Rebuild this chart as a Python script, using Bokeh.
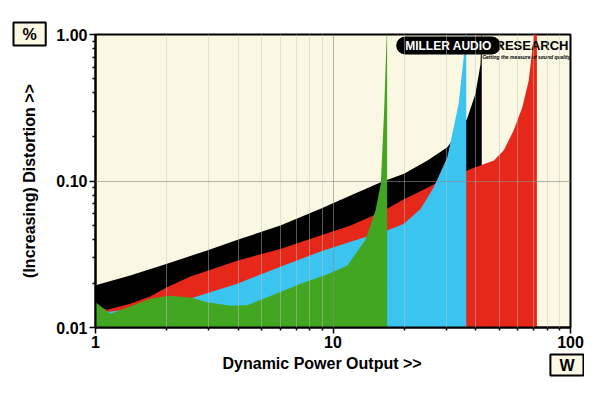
import math
from bokeh.plotting import figure
from bokeh.models import Label, Title, FixedTicker, Range1d
from bokeh.embed import file_html
from bokeh.resources import INLINE

# ---- data ----
x_tick_values = [1, 10, 100]
x_tick_labels = ["1", "10", "100"]
y_tick_values = [0.01, 0.1, 1.0]
y_tick_labels = ["0.01", "0.10", "1.00"]

black_w = [1, 1.4, 2.0, 2.95, 4.08, 6.0, 8.86, 11.85, 15.9, 19.9, 25.0, 30.3, 36.7, 39.8, 41.8, 42.3]
black_d = [0.0194, 0.0226, 0.0272, 0.0336, 0.0403, 0.0497, 0.0646, 0.0796, 0.098, 0.112, 0.138, 0.17, 0.266, 0.394, 0.63, 1.2]

red_w = [1, 1.12, 1.4, 1.7, 2.0, 2.51, 3.95, 6.0, 8.86, 11.85, 15.9, 19.9, 25.0, 30.3, 36.7, 39.8, 47.6, 52.4, 57.6, 62.7, 66.7, 70.0, 72.2]
red_d = [0.0138, 0.0132, 0.0145, 0.0163, 0.0188, 0.0223, 0.0286, 0.0344, 0.0425, 0.0497, 0.0612, 0.075, 0.09, 0.106, 0.118, 0.124, 0.138, 0.162, 0.221, 0.319, 0.486, 0.96, 1.2]

blue_w = [1, 1.5, 2.0, 2.51, 3.95, 6.0, 8.86, 11.85, 15.9, 16.9, 19.9, 23.4, 26.6, 30.3, 33.8, 35.5, 36.4]
blue_d = [0.0125, 0.0135, 0.0148, 0.0158, 0.0199, 0.026, 0.033, 0.0385, 0.0447, 0.046, 0.051, 0.0646, 0.091, 0.145, 0.336, 0.70, 1.2]

green_w = [1, 1.157, 1.4, 1.7, 2.03, 2.51, 2.95, 3.7, 4.35, 5.29, 7.06, 8.03, 9.44, 11.5, 13.7, 15.1, 15.9, 16.4, 16.9]
green_d = [0.0149, 0.0124, 0.0139, 0.0157, 0.0165, 0.016, 0.0149, 0.0141, 0.0142, 0.0161, 0.0194, 0.021, 0.023, 0.0265, 0.0397, 0.063, 0.096, 0.29, 1.2]

series = [
    (black_w, black_d, "#000000"),
    (red_w, red_d, "#e5281a"),
    (blue_w, blue_d, "#3bc4ef"),
    (green_w, green_d, "#43a620"),
]

FONT = "Liberation Sans"

x_minor = [m * 10 ** k for k in range(0, 2) for m in range(2, 10)]
y_minor = [m * 10.0 ** k for k in range(-2, 0) for m in range(2, 10)]

p = figure(width=584, height=377, x_axis_type="log", y_axis_type="log",
           x_range=Range1d(1, 100), y_range=Range1d(0.01, 1.0),
           output_backend="svg", toolbar_location=None,
           min_border_left=95, min_border_right=14, min_border_top=34, min_border_bottom=50)

p.background_fill_color = "#faf7e2"
p.border_fill_color = "white"
p.outline_line_color = "black"
p.outline_line_width = 2

for w, d, fc in series:
    p.varea(x=w, y1=0.001, y2=d, fill_color=fc, fill_alpha=1.0)

# axes
xt = FixedTicker(ticks=x_tick_values, minor_ticks=x_minor)
yt = FixedTicker(ticks=y_tick_values, minor_ticks=y_minor)
p.xaxis.ticker = xt
p.yaxis.ticker = yt
p.xaxis.major_label_overrides = dict(zip(x_tick_values, x_tick_labels))
p.yaxis.major_label_overrides = dict(zip(y_tick_values, y_tick_labels))
for ax in (p.xaxis, p.yaxis):
    ax.axis_line_width = 2
    ax.axis_line_color = "black"
    ax.major_tick_in = 0
    ax.minor_tick_in = 0
    ax.major_tick_out = 6
    ax.minor_tick_out = 3
    ax.major_tick_line_width = 1.5
    ax.minor_tick_line_width = 1.5
    ax.major_label_text_font = FONT
    ax.major_label_text_font_size = "16px"
    ax.major_label_text_font_style = "bold"
    ax.major_label_text_color = "black"
    ax.major_label_standoff = 2
    ax.axis_label_text_font = FONT
    ax.axis_label_text_font_size = "16px"
    ax.axis_label_text_font_style = "bold"
    ax.axis_label_text_color = "black"

p.yaxis.axis_label = "(Increasing) Distortion >>"
p.yaxis.axis_label_standoff = 15

# grids drawn over the areas, semi-transparent
p.xgrid.ticker = xt
p.ygrid.ticker = yt
p.xgrid.level = "overlay"
p.ygrid.level = "overlay"
p.xgrid.grid_line_color = "#8a8a8a"
p.xgrid.grid_line_alpha = 0.6
p.xgrid.minor_grid_line_color = "#c4c4c4"
p.xgrid.minor_grid_line_alpha = 0.45
p.ygrid.grid_line_color = "#8a8a8a"
p.ygrid.grid_line_alpha = 0.6
p.ygrid.minor_grid_line_color = None

def title(text, side, **kw):
    base = dict(text=text, text_font=FONT, text_font_size="16px",
                text_font_style="bold", text_color="black")
    base.update(kw)
    p.add_layout(Title(**base), side)

# x title and unit boxes (side-panel titles, so they are not clipped to the frame)
title("Dynamic Power Output >>", "below", align="left", vertical_align="top",
      offset=127, standoff=8)
title("W", "below", align="right", vertical_align="top", offset=-13, standoff=-46,
      background_fill_color="#fbf8e4", border_line_color="black",
      border_line_width=2, padding=(9, 2))
title("%", "above", align="left", vertical_align="bottom", offset=-82, standoff=-22,
      background_fill_color="#fbf8e4", border_line_color="black",
      border_line_width=2, padding=(9, 3))

def lab(**kw):
    base = dict(x_units="canvas", y_units="canvas", text_font=FONT,
                text_font_style="bold", text_color="black")
    base.update(kw)
    p.add_layout(Label(**base))

# logo
lab(x=448, y=45, text="MILLER AUDIO", text_align="center", text_baseline="middle",
    text_font_size="12px", text_color="white", background_fill_color="black",
    border_radius=9, padding=(9, 2))
lab(x=568, y=45, text="RESEARCH", text_align="right", text_baseline="middle",
    text_font_size="13px")
lab(x=570, y=56, text="Getting the measure of sound quality", text_align="right",
    text_baseline="middle", text_font_size="5px", text_font_style="bold italic")

open("out.html", "w").write(file_html(p, INLINE))
